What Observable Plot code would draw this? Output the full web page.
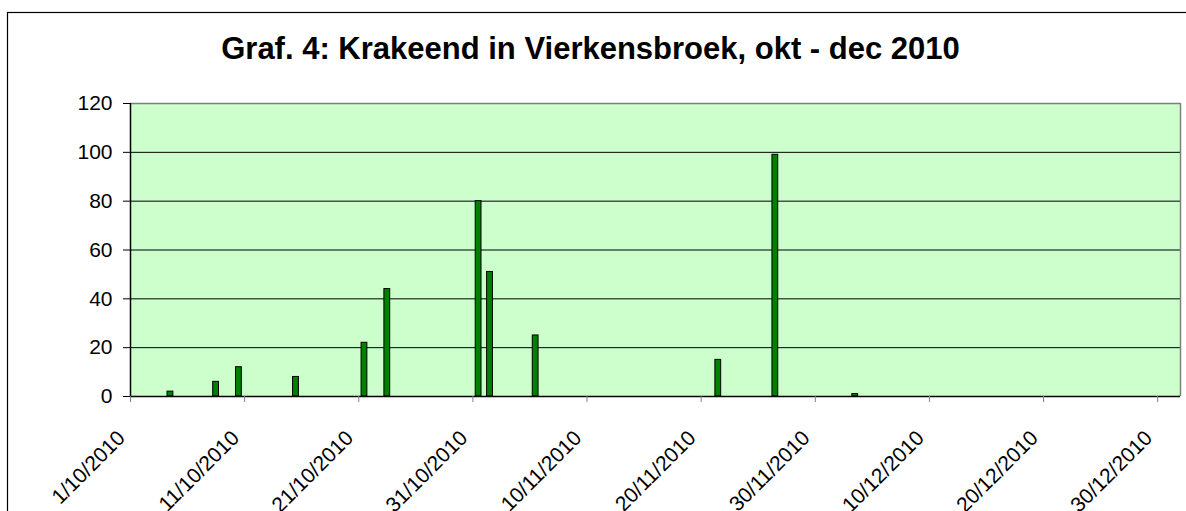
<!DOCTYPE html>
<html>
<head>
<meta charset="utf-8">
<script src="https://cdn.jsdelivr.net/npm/d3@7"></script>
<script src="https://cdn.jsdelivr.net/npm/@observablehq/plot@0.6"></script>
<style>
  html, body { margin: 0; padding: 0; background: #fff; }
  #chart { position: relative; width: 1186px; height: 511px; }
</style>
</head>
<body>
<div id="chart"></div>
<script>
const titleText = "Graf. 4: Krakeend in Vierkensbroek, okt - dec 2010";
const dates = ["2010-10-04","2010-10-08","2010-10-10","2010-10-15","2010-10-21","2010-10-23",
               "2010-10-31","2010-11-01","2010-11-05","2010-11-21","2010-11-26","2010-12-03"];
const values = [2, 6, 12, 8, 22, 44, 80, 51, 25, 15, 99, 1];
const tickDates = ["2010-10-01","2010-10-11","2010-10-21","2010-10-31","2010-11-10",
                   "2010-11-20","2010-11-30","2010-12-10","2010-12-20","2010-12-30"];
const yTicks = [0, 20, 40, 60, 80, 100, 120];
const gridValues = [20, 40, 60, 80, 100];
const xDomain = ["2010-10-01", "2011-01-01"];

const parse = s => new Date(s + "T00:00:00Z");
const data = dates.map((d, i) => ({date: parse(d), value: values[i]}));
const start = parse(xDomain[0]), end = parse(xDomain[1]);
const fmt = d3.utcFormat("%-d/%-m/%Y");
const xTicks = tickDates.map(parse);

const chart = Plot.plot({
  width: 1186,
  height: 511,
  marginLeft: 130,
  marginRight: 6,
  marginTop: 103,
  marginBottom: 115,
  style: {fontFamily: "'Liberation Sans', Arial, sans-serif", background: "transparent", overflow: "visible"},
  x: {type: "utc", domain: [start, end]},
  y: {domain: [0, 120]},
  marks: [
    Plot.frame({fill: "#CCFFCC", stroke: null}),
    Plot.ruleY(gridValues, {stroke: "#000", strokeWidth: 1}),
    Plot.ruleY([120], {stroke: "#808080", strokeWidth: 1.5}),
    Plot.ruleX([end], {stroke: "#808080", strokeWidth: 1.5}),
    Plot.rectY(data, {
      x1: "date",
      x2: d => d3.utcDay.offset(d.date, 1),
      y: "value",
      fill: "#008000",
      stroke: "#000",
      strokeWidth: 1,
      insetLeft: 2.8,
      insetRight: 2.8
    }),
    Plot.ruleY([0], {stroke: "#000", strokeWidth: 1.5}),
    Plot.ruleX([start], {stroke: "#000", strokeWidth: 1.5}),
    Plot.axisY({ticks: yTicks, tickSize: 7, tickPadding: 11, fontSize: 21, stroke: "#000", color: "#000", label: null}),
    Plot.axisX({ticks: xTicks, tickFormat: () => "", tickSize: 6, stroke: "#808080", label: null}),
    Plot.axisX({ticks: xTicks, tickFormat: fmt, tickSize: 0, tickPadding: 12, tickRotate: -45,
                fontSize: 21, color: "#000", label: null, dx: -9, dy: 26}),
    Plot.text([titleText], {frameAnchor: "top-left", dx: 460, dy: -45, textAnchor: "middle", lineAnchor: "bottom",
                fontSize: 31, fontWeight: "bold", fill: "#000"})
  ]
});

const svg = d3.select(chart);
svg.append("rect")
  .attr("x", 7.5).attr("y", 12.5)
  .attr("width", 1186).attr("height", 520)
  .attr("fill", "none").attr("stroke", "#000").attr("stroke-width", 1.2);

document.getElementById("chart").appendChild(chart);
</script>
</body>
</html>
